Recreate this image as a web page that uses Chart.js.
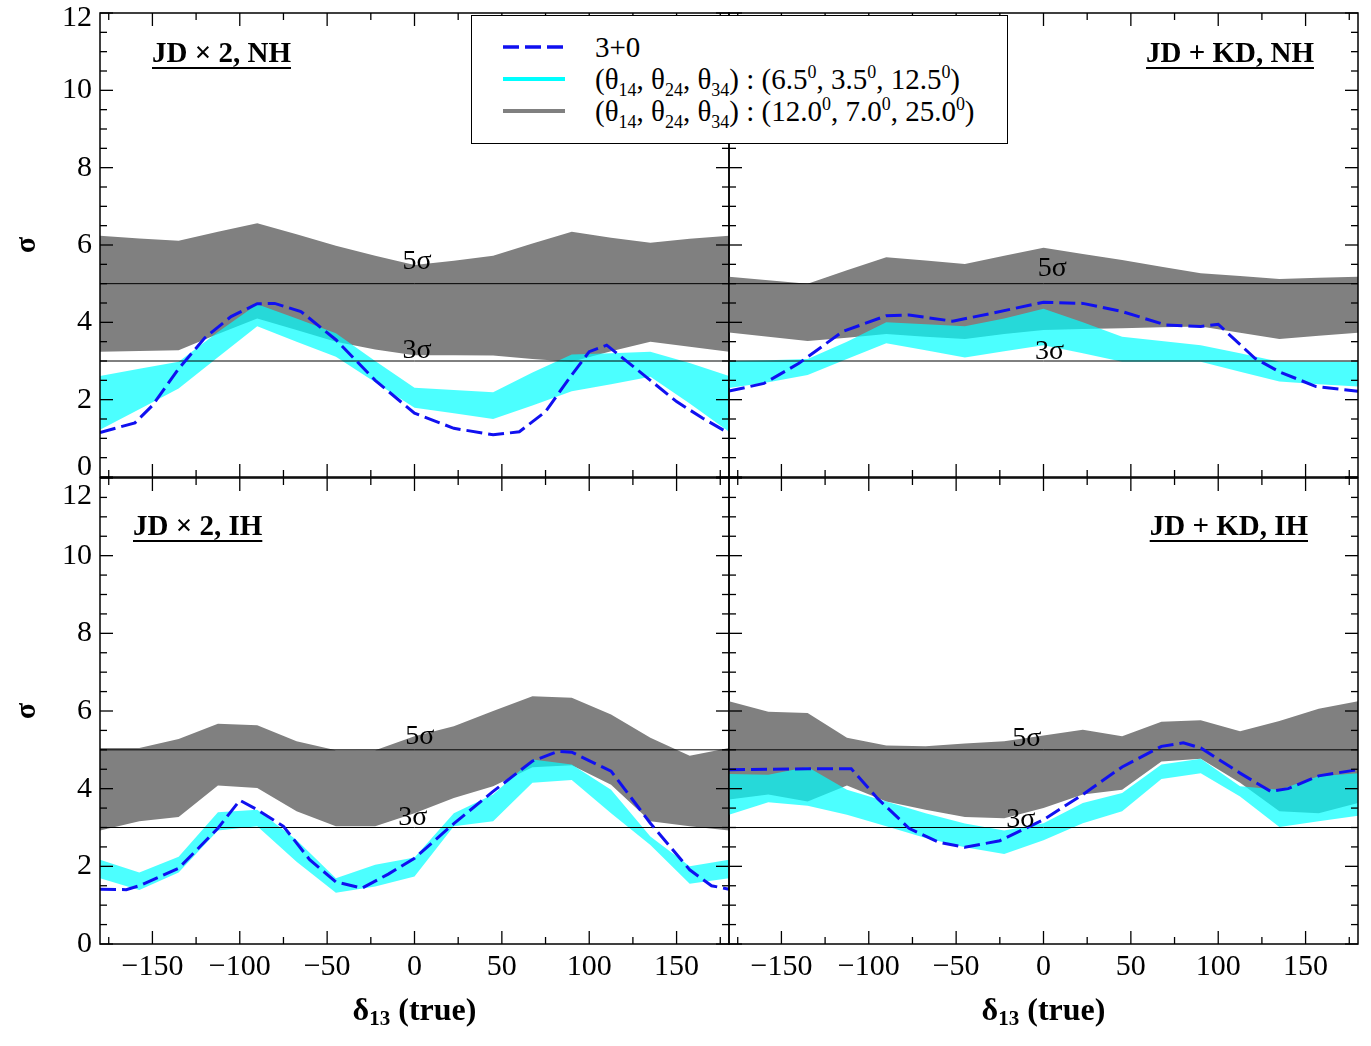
<!DOCTYPE html>
<html>
<head>
<meta charset="utf-8">
<title>sigma vs delta13</title>
<script src="https://cdn.jsdelivr.net/npm/chart.js@4.4.1/dist/chart.umd.min.js"></script>
<style>
  html, body { margin: 0; padding: 0; background: #fff; }
  #wrap { position: relative; width: 1371px; height: 1046px; overflow: hidden; }
  #charts canvas { position: absolute; left: 0; top: 0; }
  #legend { position: absolute; left: 471px; top: 15px; width: 535px; height: 127px; border: 1px solid #000; background: #fff;
            font-family: 'Liberation Serif', 'Times New Roman', serif; font-size: 29px; color: #000; }
  #legend .row { position: absolute; left: 0; width: 100%; height: 32px; line-height: 32px; }
  #legend svg { position: absolute; left: 31px; top: 13px; }
  #legend .txt { position: absolute; left: 123px; top: 0; white-space: nowrap; }
  #legend sub, #legend sup { font-size: 0.62em; line-height: 0; }
</style>
</head>
<body>
<div id="wrap">
  <div id="charts"></div>
  <div id="legend">
    <div class="row" style="top:15px">
      <svg width="62" height="6"><line x1="0" y1="3" x2="62" y2="3" stroke="#1010f0" stroke-width="3.5" stroke-dasharray="16 6"/></svg>
      <span class="txt">3+0</span>
    </div>
    <div class="row" style="top:47px">
      <svg width="62" height="6"><line x1="0" y1="3" x2="62" y2="3" stroke="#00ffff" stroke-width="4"/></svg>
      <span class="txt">(&theta;<sub>14</sub>, &theta;<sub>24</sub>, &theta;<sub>34</sub>) : (6.5<sup>0</sup>, 3.5<sup>0</sup>, 12.5<sup>0</sup>)</span>
    </div>
    <div class="row" style="top:79px">
      <svg width="62" height="6"><line x1="0" y1="3" x2="62" y2="3" stroke="#808080" stroke-width="4"/></svg>
      <span class="txt">(&theta;<sub>14</sub>, &theta;<sub>24</sub>, &theta;<sub>34</sub>) : (12.0<sup>0</sup>, 7.0<sup>0</sup>, 25.0<sup>0</sup>)</span>
    </div>
  </div>
</div>
<script>
// ---- data ----
const xMajorTicks = [-150, -100, -50, 0, 50, 100, 150];
const xMinorTicks = [-175, -125, -75, -25, 25, 75, 125, 175];
const yMajorTicks = [0, 2, 4, 6, 8, 10, 12];
const yMinorTicks = [0.5, 1, 1.5, 2.5, 3, 3.5, 4.5, 5, 5.5, 6.5, 7, 7.5, 8.5, 9, 9.5, 10.5, 11, 11.5];

const sigmaLineX = [-180, 180];
const fiveSigma = [5, 5];
const threeSigma = [3, 3];

// delta13 grid of the shaded bands
const bandX = [-180, -157.5, -135, -112.5, -90, -67.5, -45, -22.5, 0, 22.5, 45, 67.5, 90, 112.5, 135, 157.5, 180];

// JD x 2, NH
const jd2NhGrayHi = [6.24, 6.17, 6.11, 6.34, 6.56, 6.28, 5.98, 5.72, 5.48, 5.59, 5.72, 6.04, 6.34, 6.19, 6.06, 6.16, 6.24];
const jd2NhGrayLo = [3.24, 3.26, 3.28, 3.7, 4.1, 3.8, 3.5, 3.3, 3.15, 3.15, 3.14, 3.05, 2.98, 3.25, 3.5, 3.37, 3.24];
const jd2NhCyanHi = [2.61, 2.8, 2.98, 3.75, 4.47, 4.1, 3.72, 3.0, 2.31, 2.25, 2.19, 2.7, 3.17, 3.2, 3.24, 2.95, 2.61];
const jd2NhCyanLo = [1.22, 1.75, 2.29, 3.1, 3.9, 3.5, 3.11, 2.45, 1.79, 1.65, 1.5, 1.85, 2.22, 2.4, 2.59, 1.9, 1.17];
const jd2NhStdX = [-180, -160, -150, -135, -120, -105, -90, -80, -65, -45, -22.5, 0, 22.5, 45, 60, 75, 90, 100, 110, 135, 150, 165, 180];
const jd2NhStd = [1.15, 1.4, 1.85, 2.8, 3.6, 4.15, 4.48, 4.49, 4.28, 3.55, 2.5, 1.65, 1.26, 1.09, 1.17, 1.69, 2.64, 3.24, 3.41, 2.5, 1.95, 1.52, 1.13];

// JD + KD, NH
const kdNhGrayHi = [5.18, 5.09, 5.0, 5.35, 5.68, 5.6, 5.51, 5.72, 5.93, 5.77, 5.61, 5.44, 5.27, 5.2, 5.12, 5.15, 5.18];
const kdNhGrayLo = [3.74, 3.63, 3.52, 3.6, 3.7, 3.63, 3.57, 3.7, 3.8, 3.83, 3.85, 3.87, 3.89, 3.73, 3.57, 3.65, 3.73];
const kdNhCyanHi = [3.0, 3.02, 3.05, 3.5, 4.0, 3.95, 3.9, 4.1, 4.35, 4.0, 3.63, 3.52, 3.41, 3.2, 2.98, 2.98, 2.98];
const kdNhCyanLo = [2.3, 2.45, 2.64, 3.05, 3.46, 3.28, 3.09, 3.25, 3.41, 3.2, 2.98, 2.98, 2.98, 2.72, 2.47, 2.4, 2.34];
const kdNhStdX = [-180, -160, -140, -115, -90, -77, -52, -30, 0, 22.5, 45, 70, 90, 100, 121, 135, 156, 180];
const kdNhStd = [2.22, 2.42, 2.94, 3.76, 4.17, 4.19, 4.03, 4.23, 4.52, 4.49, 4.28, 3.93, 3.89, 3.95, 3.07, 2.72, 2.34, 2.22];

// JD x 2, IH
const jd2IhGrayHi = [5.05, 5.05, 5.28, 5.67, 5.63, 5.22, 4.99, 4.99, 5.35, 5.61, 6.0, 6.38, 6.34, 5.91, 5.31, 4.85, 5.05];
const jd2IhGrayLo = [2.92, 3.16, 3.27, 4.08, 4.02, 3.42, 3.03, 3.03, 3.37, 3.76, 4.06, 4.55, 4.6, 4.1, 3.16, 3.03, 2.92];
const jd2IhCyanHi = [2.17, 1.84, 2.25, 3.39, 3.46, 2.68, 1.69, 2.04, 2.23, 3.37, 3.85, 4.75, 4.62, 3.97, 2.77, 2.0, 2.17];
const jd2IhCyanLo = [1.69, 1.39, 1.84, 2.92, 3.03, 2.12, 1.32, 1.48, 1.74, 3.03, 3.16, 4.15, 4.22, 3.37, 2.55, 1.55, 1.69];
const jd2IhStdX = [-180, -165, -157.5, -135, -112.5, -100, -90, -75, -60, -45, -30, -15, 0, 22.5, 45, 67.5, 82, 90, 112.5, 135, 157.5, 170, 180];
const jd2IhStd = [1.41, 1.4, 1.5, 1.95, 2.98, 3.7, 3.46, 3.03, 2.17, 1.6, 1.44, 1.8, 2.21, 3.1, 3.93, 4.71, 4.96, 4.94, 4.45, 3.11, 1.91, 1.5, 1.41];

// JD + KD, IH
const kdIhGrayHi = [6.25, 5.98, 5.95, 5.31, 5.11, 5.09, 5.16, 5.22, 5.37, 5.52, 5.35, 5.72, 5.76, 5.48, 5.74, 6.06, 6.25];
const kdIhGrayLo = [3.72, 3.85, 3.67, 4.08, 3.67, 3.46, 3.27, 3.24, 3.5, 3.85, 3.97, 4.7, 4.77, 4.15, 3.42, 3.37, 3.63];
const kdIhCyanHi = [4.38, 4.36, 4.56, 3.97, 3.67, 3.37, 3.1, 2.92, 3.11, 3.63, 3.89, 4.62, 4.77, 4.06, 3.97, 4.32, 4.4];
const kdIhCyanLo = [3.33, 3.65, 3.56, 3.33, 3.03, 2.73, 2.49, 2.32, 2.67, 3.11, 3.42, 4.25, 4.4, 3.8, 3.01, 3.16, 3.3];
const kdIhStdX = [-180, -157.5, -135, -110, -95, -77, -60, -45, -25, 0, 22.5, 45, 67.5, 80, 90, 112.5, 130, 140, 157.5, 180];
const kdIhStd = [4.49, 4.5, 4.51, 4.51, 3.75, 2.98, 2.62, 2.49, 2.66, 3.2, 3.85, 4.56, 5.09, 5.18, 5.05, 4.4, 3.93, 4.0, 4.33, 4.49];

// ---- styling / layout ----
const W = 1371, H = 1046;
const SERIF = "'Liberation Serif', 'Times New Roman', serif";
const BLUE = '#1010f0';
const CYAN = 'rgba(0, 255, 255, 0.7)';
const GRAY = '#808080';
const NONE = 'rgba(0,0,0,0)';

const panels = [
  { title: 'JD \u00d7 2, NH', area: { l: 100, t: 13, r: 729, b: 477 }, yLabels: true, xLabels: false,
    grayHi: jd2NhGrayHi, grayLo: jd2NhGrayLo, cyanHi: jd2NhCyanHi, cyanLo: jd2NhCyanLo, stdX: jd2NhStdX, std: jd2NhStd,
    titlePos: { side: 'left', dx: 52, dy: 49 }, five: [1.5, 5.56], three: [1.5, 3.26],
    edgeLabels: [{ v: 12, dy: 5 }, { v: 0, dy: -10 }] },
  { title: 'JD + KD, NH', area: { l: 729, t: 13, r: 1358, b: 477 }, yLabels: false, xLabels: false,
    grayHi: kdNhGrayHi, grayLo: kdNhGrayLo, cyanHi: kdNhCyanHi, cyanLo: kdNhCyanLo, stdX: kdNhStdX, std: kdNhStd,
    titlePos: { side: 'right', dx: 44, dy: 49 }, five: [5, 5.4], three: [3.5, 3.23], edgeLabels: [] },
  { title: 'JD \u00d7 2, IH', area: { l: 100, t: 478, r: 729, b: 944 }, yLabels: true, xLabels: true,
    grayHi: jd2IhGrayHi, grayLo: jd2IhGrayLo, cyanHi: jd2IhCyanHi, cyanLo: jd2IhCyanLo, stdX: jd2IhStdX, std: jd2IhStd,
    titlePos: { side: 'left', dx: 33, dy: 57 }, five: [3, 5.34], three: [-1, 3.25],
    edgeLabels: [{ v: 12, dy: 18 }] },
  { title: 'JD + KD, IH', area: { l: 729, t: 478, r: 1358, b: 944 }, yLabels: false, xLabels: true,
    grayHi: kdIhGrayHi, grayLo: kdIhGrayLo, cyanHi: kdIhCyanHi, cyanLo: kdIhCyanLo, stdX: kdIhStdX, std: kdIhStd,
    titlePos: { side: 'right', dx: 50, dy: 57 }, five: [-9.5, 5.29], three: [-13, 3.2], edgeLabels: [] }
];

function series(xs, ys) {
  return xs.map((x, i) => ({ x: x, y: ys[i] }));
}

function fmtX(v) {
  return v < 0 ? '\u2212' + Math.abs(v) : String(v);
}

// frame, inward ticks and in-panel text
const panelDecor = {
  id: 'panelDecor',
  afterDraw(chart, args, opts) {
    const p = opts.panel;
    const { ctx, chartArea: a, scales: { x, y } } = chart;
    ctx.save();
    ctx.strokeStyle = '#000';
    ctx.lineWidth = 1.3;
    const seg = (x1, y1, x2, y2) => { ctx.beginPath(); ctx.moveTo(x1, y1); ctx.lineTo(x2, y2); ctx.stroke(); };
    const xt = (vals, len) => vals.forEach(v => {
      const px = x.getPixelForValue(v);
      seg(px, a.top, px, a.top + len);
      seg(px, a.bottom, px, a.bottom - len);
    });
    const yt = (vals, len) => vals.forEach(v => {
      const py = y.getPixelForValue(v);
      seg(a.left, py, a.left + len, py);
      seg(a.right, py, a.right - len, py);
    });
    xt(xMajorTicks, 13); xt(xMinorTicks, 7);
    yt(yMajorTicks, 13); yt(yMinorTicks, 7);
    ctx.lineWidth = 1.5;
    ctx.strokeRect(a.left, a.top, a.right - a.left, a.bottom - a.top);

    // sigma labels
    ctx.fillStyle = '#000';
    ctx.font = '28px ' + SERIF;
    ctx.textAlign = 'center';
    ctx.textBaseline = 'middle';
    ctx.fillText('5\u03c3', x.getPixelForValue(p.five[0]), y.getPixelForValue(p.five[1]));
    ctx.fillText('3\u03c3', x.getPixelForValue(p.three[0]), y.getPixelForValue(p.three[1]));

    // panel title, bold + underlined
    ctx.font = 'bold 29px ' + SERIF;
    ctx.textBaseline = 'alphabetic';
    ctx.textAlign = 'left';
    const tw = ctx.measureText(p.title).width;
    const tx = p.titlePos.side === 'left' ? a.left + p.titlePos.dx : a.right - p.titlePos.dx - tw;
    const ty = a.top + p.titlePos.dy;
    ctx.fillText(p.title, tx, ty);
    ctx.lineWidth = 2;
    seg(tx, ty + 6, tx + tw, ty + 6);

    // y labels at the shared edges, nudged inside like the original
    ctx.font = '30px ' + SERIF;
    ctx.textAlign = 'right';
    ctx.textBaseline = 'middle';
    p.edgeLabels.forEach(e => ctx.fillText(String(e.v), a.left - 8, y.getPixelForValue(e.v) + e.dy));

    // x axis title with subscript
    if (p.xLabels) {
      const big = 'bold 32px ' + SERIF, small = 'bold 21px ' + SERIF;
      ctx.textAlign = 'left';
      ctx.textBaseline = 'alphabetic';
      ctx.font = big; const w1 = ctx.measureText('\u03b4').width;
      ctx.font = small; const w2 = ctx.measureText('13').width;
      ctx.font = big; const w3 = ctx.measureText(' (true)').width;
      let cx = (a.left + a.right) / 2 - (w1 + w2 + w3) / 2;
      const by = a.bottom + 76;
      ctx.fillText('\u03b4', cx, by); cx += w1;
      ctx.font = small; ctx.fillText('13', cx, by + 5); cx += w2;
      ctx.font = big; ctx.fillText(' (true)', cx, by);
    }
    ctx.restore();
  }
};

const holder = document.getElementById('charts');

panels.forEach(p => {
  const cv = document.createElement('canvas');
  cv.width = W; cv.height = H;
  cv.style.width = W + 'px'; cv.style.height = H + 'px';
  holder.appendChild(cv);
  const hidden = p.edgeLabels.map(e => e.v);

  new Chart(cv, {
    type: 'line',
    data: {
      datasets: [
        { label: '3+0', data: series(p.stdX, p.std), borderColor: BLUE, borderWidth: 3, borderDash: [16, 6],
          pointRadius: 0, fill: false, tension: 0 },
        { label: '5 sigma', data: series(sigmaLineX, fiveSigma), borderColor: '#000', borderWidth: 1, pointRadius: 0, fill: false },
        { label: '3 sigma', data: series(sigmaLineX, threeSigma), borderColor: '#000', borderWidth: 1, pointRadius: 0, fill: false },
        { label: 'small angles hi', data: series(bandX, p.cyanHi), borderColor: NONE, borderWidth: 0, pointRadius: 0,
          backgroundColor: CYAN, fill: 4 },
        { label: 'small angles lo', data: series(bandX, p.cyanLo), borderColor: NONE, borderWidth: 0, pointRadius: 0, fill: false },
        { label: 'large angles hi', data: series(bandX, p.grayHi), borderColor: NONE, borderWidth: 0, pointRadius: 0,
          backgroundColor: GRAY, fill: 6 },
        { label: 'large angles lo', data: series(bandX, p.grayLo), borderColor: NONE, borderWidth: 0, pointRadius: 0, fill: false }
      ]
    },
    options: {
      responsive: false,
      maintainAspectRatio: false,
      animation: false,
      devicePixelRatio: 1,
      events: [],
      layout: {
        padding: {
          left: p.yLabels ? 0 : p.area.l,
          top: p.area.t,
          right: W - p.area.r,
          bottom: p.xLabels ? 0 : H - p.area.b
        }
      },
      plugins: {
        legend: { display: false },
        tooltip: { enabled: false },
        panelDecor: { panel: p }
      },
      scales: {
        x: {
          type: 'linear', min: -180, max: 180,
          afterBuildTicks: s => { s.ticks = xMajorTicks.map(v => ({ value: v })); },
          afterFit: s => { s.height = p.xLabels ? H - p.area.b : 0; s.paddingLeft = 0; s.paddingRight = 0; },
          grid: { display: false, drawTicks: false },
          border: { display: false },
          ticks: { display: p.xLabels, padding: 5, color: '#000', maxRotation: 0, autoSkip: false,
                   font: { family: SERIF, size: 30 }, callback: v => fmtX(v) }
        },
        y: {
          type: 'linear', min: 0, max: 12,
          afterBuildTicks: s => { s.ticks = yMajorTicks.map(v => ({ value: v })); },
          afterFit: s => { s.width = p.yLabels ? p.area.l : 0; s.paddingTop = 0; s.paddingBottom = 0; },
          grid: { display: false, drawTicks: false },
          border: { display: false },
          ticks: { display: p.yLabels, padding: 8, color: '#000', autoSkip: false,
                   font: { family: SERIF, size: 30 }, callback: v => hidden.includes(v) ? '' : String(v) },
          title: { display: p.yLabels, text: '\u03c3', color: '#000',
                   font: { family: SERIF, size: 30, weight: 'bold' }, padding: { top: 9, bottom: 0 } }
        }
      }
    },
    plugins: [panelDecor]
  });
});
</script>
</body>
</html>
